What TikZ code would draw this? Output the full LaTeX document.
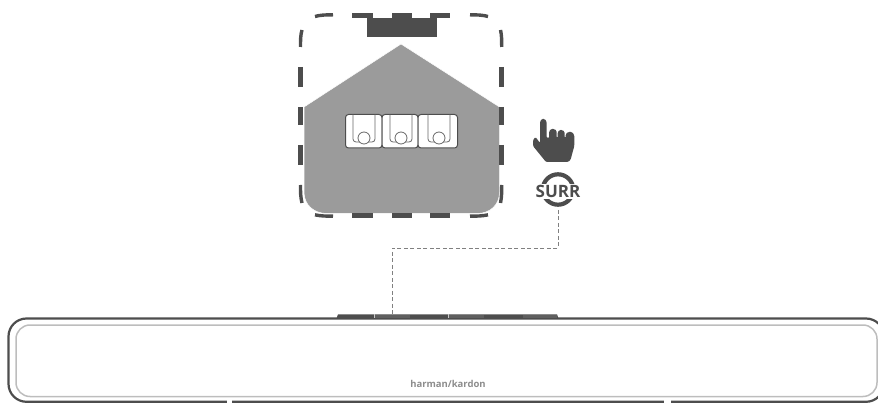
\documentclass[tikz,border=0pt]{standalone}
\usepackage{fontspec}
\setmainfont{Open Sans}
\definecolor{dk}{HTML}{4D4D4D}
\definecolor{hs}{HTML}{9B9B9B}
\definecolor{lt}{HTML}{BDBDBD}
\tikzset{
  frameline/.style={draw=dk,line width=4.8pt},
  framecurve/.style={draw=dk,line width=3.4pt},
  chairbox/.style={draw=dk,fill=white,line width=1pt,rounded corners=3pt},
  chairline/.style={draw=dk!85,line width=0.8pt},
  connector/.style={draw=black!50,line width=0.8pt,dash pattern=on 4pt off 2.5pt},
}
\begin{document}
\begin{tikzpicture}[x=1pt,y=-1pt]
\useasboundingbox (0,0) rectangle (878,403);
% sound bar (clipped by the picture edge)
\begin{scope}
\clip (0,0) rectangle (878,403);
\draw[draw=dk,line width=2.2pt,rounded corners=18pt] (8.5,318.5) rectangle (884,401.8);
\draw[draw=lt,line width=1.5pt,rounded corners=14pt] (16,325) rectangle (877,396.5);
\end{scope}
\fill[white] (227,399) rectangle (232,403);
\fill[white] (664,399) rectangle (671,403);
% buttons on top of the bar
\fill[dk] (336.5,318.5) -- (338,314.3) -- (557,314.3) -- (558.5,318.5) -- cycle;
\fill[dk!90] (375,315) rectangle (410,318);
\fill[dk!90] (449,315) rectangle (484,318);
\fill[dk!90] (523,315) rectangle (557,318);
\fill[white!70!dk] (374,314.3) rectangle (375,318);
\fill[white!70!dk] (448,314.3) rectangle (449,318);
\node[text=black!45,inner sep=0pt,font={\fontsize{9.5}{10}\selectfont\bfseries}] (logo) at (448,384) {harman/kardon};
\coordinate (barjack) at (392,316);
% room
\fill[hs,draw=white,line width=0.5pt] (401,44) -- (499.5,107) -- (499.5,192)
  .. controls (499.5,205) and (490,213.5) .. (477,213.5) -- (327,213.5)
  .. controls (314,213.5) and (304,205) .. (304,192) -- (304,107) -- cycle;
% dashed frame
\draw[framecurve] (315,16.5) .. controls (320,15) and (326,14.8) .. (333,14.8);
\draw[framecurve] (300.5,47) .. controls (300.5,40) and (300.5,35) .. (302,30);
\draw[framecurve] (488,16.5) .. controls (483,15) and (477,14.8) .. (470,14.8);
\draw[framecurve] (501.7,47) .. controls (501.7,40) and (501.7,35) .. (500.5,30);
\draw[framecurve] (300.5,185) .. controls (300.5,192) and (300.5,197) .. (302,203);
\draw[framecurve] (501.7,185) .. controls (501.7,192) and (501.7,197) .. (500.5,203);
\draw[framecurve] (315,214.8) .. controls (320,216) and (326,216.2) .. (333,216.2);
\draw[framecurve] (488,214.8) .. controls (483,216) and (477,216.2) .. (470,216.2);
\foreach \a/\b in {67/87,107/125,145/165}{
  \draw[frameline] (300.7,\a) -- (300.7,\b);
  \draw[frameline] (501.5,\a) -- (501.5,\b);
}
\foreach \a/\b in {352/373,392/412,430/450}{
  \draw[frameline] (\a,15.7) -- (\b,15.7);
  \draw[frameline] (\a,215.8) -- (\b,215.8);
}
% sound bar inside the room
\fill[dk] (367,18) rectangle (437,37.5);
% seats
\foreach \l/\r in {345.5/382,382/418,418/457.5}{
  \path[chairbox] (\l,114.5) rectangle (\r,148);
}
\foreach \c in {364,401,439}{
  \draw[chairline,rounded corners=3pt] (\c-11,114.5) -- (\c-11,142) -- (\c+11,142) -- (\c+11,114.5);
  \draw[chairline,fill=white] (\c,138) circle (6pt);
}
% hand
\fill[dk,rounded corners=1.2pt] (540,122) -- (541.5,119) -- (545,119) -- (546.7,122) -- (546.7,138)
  -- (549.2,138) -- (549.2,131) -- (551,129) -- (554.5,129) -- (556.7,131) -- (556.7,138)
  -- (557.7,138) -- (557.7,132) -- (559.5,130) -- (562.5,130) -- (564.7,132) -- (564.7,138)
  -- (565.7,138) -- (565.7,134) -- (568,132) -- (572,132) -- (574.3,135) -- (574.3,146) -- (570.5,160)
  -- (568,162) -- (546,162) -- (533,146) -- (533,140) -- (535.5,137) -- (540,143) -- cycle;
% surround button
\draw[dk,line width=4.2pt] (558,189.5) circle (15.2pt);
\node[fill=white,inner xsep=1pt,inner ysep=1pt,text=dk,font={\fontsize{17}{18}\selectfont\bfseries}] (surr) at (558,191.5) {SURR};
\coordinate (surrout) at (558,210);
\draw[connector] (surrout) -- (558,248) -| (barjack);
\end{tikzpicture}
\end{document}
